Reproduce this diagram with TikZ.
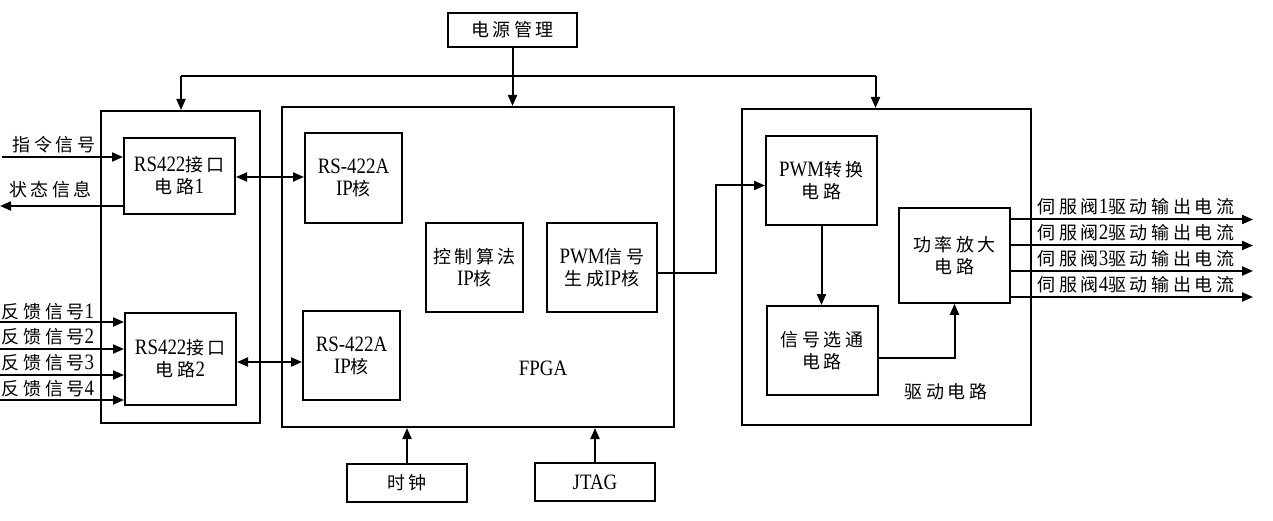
\documentclass[tikz,border=0pt]{standalone}
\usepackage{fontspec}
\setmainfont{Liberation Serif}[Scale=1.22, FakeStretch=0.86]
\newfontfamily\cjk[LetterSpace=20]{Noto Sans CJK SC}
\usetikzlibrary{arrows.meta}
\newcommand{\zh}[1]{{\cjk #1}}
\begin{document}
\begin{tikzpicture}[x=1pt,y=-1pt,
  every node/.style={font=\fontsize{18}{22}\selectfont},
  box/.style={draw, line width=2pt, inner sep=0pt, align=center},
  lbl/.style={inner sep=0pt},
  ln/.style={line width=2pt},
  arr/.style={line width=2pt, -{Triangle[length=11pt,width=9pt]}},
  darr/.style={line width=2pt, {Triangle[length=11pt,width=9pt]}-{Triangle[length=11pt,width=9pt]}}]
\useasboundingbox (0,0) rectangle (1273,521);

% boxes
\node[box, minimum width=129pt, minimum height=34pt] (pwr) at (512.5,30) {\zh{电源管理}};
\node[box, minimum width=159pt, minimum height=312pt] (lb) at (180.5,267) {};
\node[box, minimum width=111pt, minimum height=76pt] (rs1) at (179.5,176) {RS422\zh{接口}\\\zh{电路}1};
\node[box, minimum width=111pt, minimum height=92pt] (rs2) at (180.5,359) {RS422\zh{接口}\\\zh{电路}2};

\node[box, minimum width=392pt, minimum height=320pt] (fpga) at (478,267) {};
\node[box, minimum width=97pt, minimum height=90pt] (ip1) at (353.5,178) {RS-422A\\IP\zh{核}};
\node[box, minimum width=97pt, minimum height=89pt] (ip2) at (351.5,355.5) {RS-422A\\IP\zh{核}};
\node[box, minimum width=97pt, minimum height=89pt] (ctrl) at (474.5,267.5) {\zh{控制算法}\\IP\zh{核}};
\node[box, minimum width=110pt, minimum height=89pt] (pwmgen) at (602,267.5) {PWM\zh{信号}\\\zh{生成}IP\zh{核}};
\node[lbl] (fpgal) at (543,368) {FPGA};

\node[box, minimum width=288.5pt, minimum height=316pt] (drive) at (886.25,267) {};
\node[box, minimum width=111pt, minimum height=89pt] (pwmc) at (821.5,180.5) {PWM\zh{转换}\\\zh{电路}};
\node[box, minimum width=111pt, minimum height=89pt] (sel) at (822,350.5) {\zh{信号选通}\\\zh{电路}};
\node[box, minimum width=111pt, minimum height=94.5pt] (amp) at (954.5,255.5) {\zh{功率放大}\\\zh{电路}};
\node[lbl] (drivel) at (946,391.5) {\zh{驱动电路}};

\node[box, minimum width=120pt, minimum height=38pt] (clk) at (407,483) {\zh{时钟}};
\node[box, minimum width=120pt, minimum height=38pt] (jtag) at (595,482) {JTAG};

% power bus
\coordinate (bl) at (181,76);
\coordinate (br) at (875.5,76);
\draw[ln] (bl) -- (br);
\draw[arr] (bl) -- (bl |- lb.north);
\draw[arr] (br) -- (br |- drive.north);
\draw[arr] (pwr.south) -- (pwr.south |- fpga.north);

% left signals
\coordinate (in1) at (2,157);
\coordinate (out1) at (0,206);
\draw[arr] (in1) -- (in1 -| rs1.west);
\draw[arr] (out1 -| rs1.west) -- (out1);
\node[lbl] (l1) at (54,145) {\zh{指令信号}};
\node[lbl] (l2) at (50.5,190) {\zh{状态信息}};

\coordinate (f1) at (0,322);
\coordinate (f2) at (0,349);
\coordinate (f3) at (0,375);
\coordinate (f4) at (0,400);
\draw[arr] (f1) -- (f1 -| rs2.west);
\draw[arr] (f2) -- (f2 -| rs2.west);
\draw[arr] (f3) -- (f3 -| rs2.west);
\draw[arr] (f4) -- (f4 -| rs2.west);
\node[lbl] (lf1) at (48,311.5) {\zh{反馈信号}1};
\node[lbl] (lf2) at (48,337) {\zh{反馈信号}2};
\node[lbl] (lf3) at (48,363) {\zh{反馈信号}3};
\node[lbl] (lf4) at (48,389) {\zh{反馈信号}4};

% bidirectional
\coordinate (b1) at (0,177);
\coordinate (b2) at (0,362);
\draw[darr] (b1 -| rs1.east) -- (b1 -| ip1.west);
\draw[darr] (b2 -| rs2.east) -- (b2 -| ip2.west);

% pwm path
\coordinate (pg) at (715.5,273);
\coordinate (pc) at (715.5,185.5);
\draw[arr] (pg -| pwmgen.east) -- (pg) -- (pc) -- (pc -| pwmc.west);
\draw[arr] (pwmc.south) -- (pwmc.south |- sel.north);
\coordinate (sa) at (0,357.5);
\draw[arr] (sa -| sel.east) -| (amp.south);

% outputs
\coordinate (o1) at (1253,219.5);
\coordinate (o2) at (1253,245.5);
\coordinate (o3) at (1253,271);
\coordinate (o4) at (1253,297);
\draw[arr] (o1 -| amp.east) -- (o1);
\draw[arr] (o2 -| amp.east) -- (o2);
\draw[arr] (o3 -| amp.east) -- (o3);
\draw[arr] (o4 -| amp.east) -- (o4);
\node[lbl] (t1) at (1136,206.7) {\zh{伺服阀}1\zh{驱动输出电流}};
\node[lbl] (t2) at (1136,232.7) {\zh{伺服阀}2\zh{驱动输出电流}};
\node[lbl] (t3) at (1136,258.3) {\zh{伺服阀}3\zh{驱动输出电流}};
\node[lbl] (t4) at (1136,284.3) {\zh{伺服阀}4\zh{驱动输出电流}};

% bottom
\draw[arr] (clk.north) -- (clk.north |- fpga.south);
\draw[arr] (jtag.north) -- (jtag.north |- fpga.south);
\end{tikzpicture}
\end{document}
